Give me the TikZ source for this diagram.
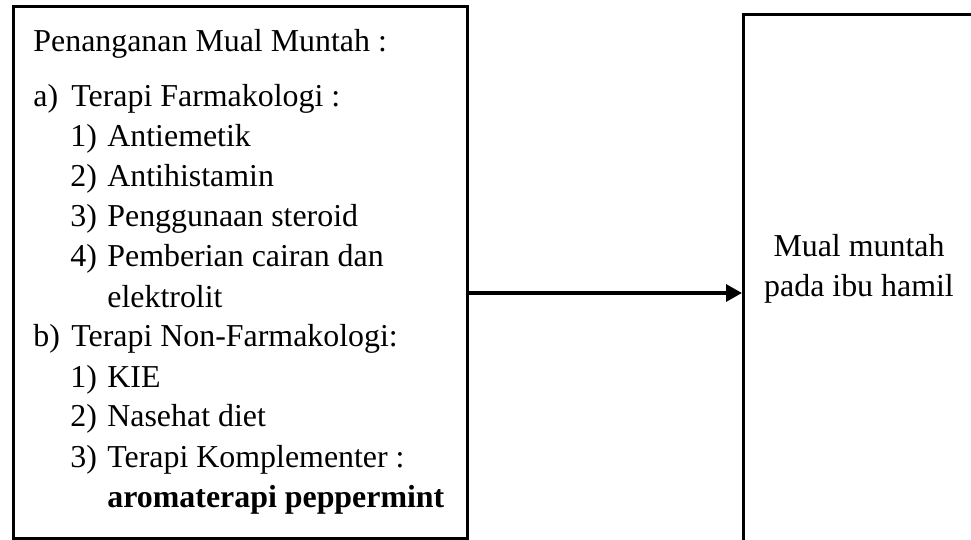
\documentclass[tikz,border=0pt]{standalone}
\usepackage{fontspec}
\setmainfont{Liberation Serif}
\usetikzlibrary{arrows.meta}
\begin{document}
\begin{tikzpicture}[x=0.5pt,y=-0.5pt,
  txt/.style={anchor=base west, inner sep=0pt, font=\fontsize{15.95pt}{20pt}\selectfont},
  ctxt/.style={anchor=center, inner sep=0pt, align=center, font=\fontsize{15.95pt}{20pt}\selectfont},
  frame/.style={draw, line width=1.5pt, inner sep=0pt},
  conn/.style={line width=1.6pt, -{Triangle[length=8pt,width=8.5pt]}}]
\useasboundingbox (0,0) rectangle (971,540);
\clip (0,0) rectangle (971,540);
% boxes
\node[frame, anchor=north west, minimum width=227pt, minimum height=266pt] (left) at (12,5) {};
\node[frame, anchor=north west, minimum width=117pt, minimum height=300pt] (right) at (742,13) {};
% left text
\node[txt] (title) at (33,52) {Penanganan Mual Muntah :};
\node[txt] (a)  at (33,107) {\makebox[19pt][l]{a)}Terapi Farmakologi :};
\node[txt] (a1) at (70,147) {\makebox[18.5pt][l]{1)}Antiemetik};
\node[txt] (a2) at (70,187) {\makebox[18.5pt][l]{2)}Antihistamin};
\node[txt] (a3) at (70,227) {\makebox[18.5pt][l]{3)}Penggunaan steroid};
\node[txt] (a4) at (70,267) {\makebox[18.5pt][l]{4)}Pemberian cairan dan};
\node[txt] (a4b) at (107,307) {elektrolit};
\node[txt] (b)  at (33,347) {\makebox[19pt][l]{b)}Terapi Non-Farmakologi:};
\node[txt] (b1) at (70,387) {\makebox[18.5pt][l]{1)}KIE};
\node[txt] (b2) at (70,427) {\makebox[18.5pt][l]{2)}Nasehat diet};
\node[txt] (b3) at (70,467) {\makebox[18.5pt][l]{3)}Terapi Komplementer :};
\node[txt] (b3b) at (107,507) {\textbf{aromaterapi peppermint}};
% right text
\node[ctxt] (rtxt) at (859,268.6) {Mual muntah\\pada ibu hamil};
% connector
\coordinate (ay) at (0,293);
\draw[conn] (left.east |- ay) -- (right.west |- ay);
\end{tikzpicture}
\end{document}
